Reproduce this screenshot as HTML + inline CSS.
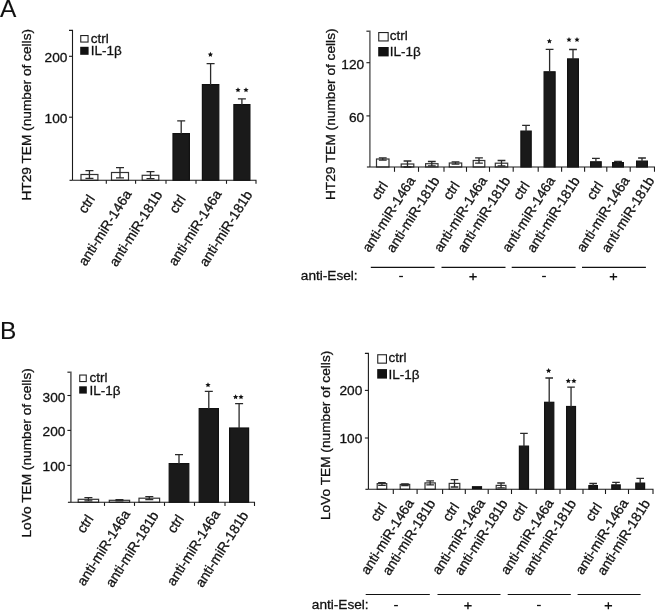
<!DOCTYPE html>
<html><head><meta charset="utf-8"><style>
html,body{margin:0;padding:0;background:#fff;width:655px;height:610px;overflow:hidden}
svg{display:block}
text{font-family:"Liberation Sans", sans-serif;fill:#111;stroke:#111;stroke-width:0.3px}
svg{will-change:transform}
</style></head><body>
<svg width="655" height="610" viewBox="0 0 655 610">
<text x="0" y="17.2" font-size="24.5" style="stroke-width:0.1px">A</text>
<text x="0.1" y="339.4" font-size="24.5" style="stroke-width:0.1px">B</text>
<rect x="81.00" y="174.50" width="16.90" height="5.80" fill="#fff" stroke="#333" stroke-width="1.20"/>
<path d="M89.45 170.30V178.70M85.45 170.60H93.45M85.45 178.40H93.45" stroke="#2a2a2a" stroke-width="1.3" fill="none"/>
<rect x="111.50" y="172.50" width="17.00" height="7.80" fill="#fff" stroke="#333" stroke-width="1.20"/>
<path d="M120.00 167.40V178.20M116.00 167.70H124.00M116.00 177.90H124.00" stroke="#2a2a2a" stroke-width="1.3" fill="none"/>
<rect x="142.20" y="175.30" width="16.60" height="5.00" fill="#fff" stroke="#333" stroke-width="1.20"/>
<path d="M150.50 171.40V179.00M146.50 171.70H154.50M146.50 178.70H154.50" stroke="#2a2a2a" stroke-width="1.3" fill="none"/>
<rect x="173.00" y="133.60" width="16.40" height="46.70" fill="#1a1a1a" stroke="#111" stroke-width="1.20"/>
<path d="M181.20 120.60V134.00M177.20 120.90H185.20" stroke="#2a2a2a" stroke-width="1.3" fill="none"/>
<rect x="202.40" y="84.60" width="16.40" height="95.70" fill="#1a1a1a" stroke="#111" stroke-width="1.20"/>
<path d="M210.60 63.40V85.00M206.60 63.70H214.60" stroke="#2a2a2a" stroke-width="1.3" fill="none"/>
<rect x="233.90" y="104.60" width="16.00" height="75.70" fill="#1a1a1a" stroke="#111" stroke-width="1.20"/>
<path d="M241.90 98.60V105.00M237.90 98.90H245.90" stroke="#2a2a2a" stroke-width="1.3" fill="none"/>
<path d="M69.00 30.40H72.50V180.30" stroke="#1a1a1a" stroke-width="1.10" fill="none"/>
<path d="M69.50 180.30H72.50" stroke="#1a1a1a" stroke-width="1.1" fill="none"/>
<path d="M69.00 56.30H72.50" stroke="#1a1a1a" stroke-width="1.1"/>
<text x="67.40" y="61.60" text-anchor="end" font-size="13.70">200</text>
<path d="M69.00 117.20H72.50" stroke="#1a1a1a" stroke-width="1.1"/>
<text x="67.40" y="122.50" text-anchor="end" font-size="13.70">100</text>
<path d="M72.50 180.30H256.00V183.80" stroke="#1a1a1a" stroke-width="1.1" fill="none"/>
<path d="M106.30 180.30V183.80" stroke="#1a1a1a" stroke-width="1.1"/>
<path d="M135.60 180.30V183.80" stroke="#1a1a1a" stroke-width="1.1"/>
<path d="M166.00 180.30V183.80" stroke="#1a1a1a" stroke-width="1.1"/>
<path d="M196.00 180.30V183.80" stroke="#1a1a1a" stroke-width="1.1"/>
<path d="M226.50 180.30V183.80" stroke="#1a1a1a" stroke-width="1.1"/>
<polygon points="210.40,51.85 211.18,53.53 213.02,53.75 211.66,55.01 212.02,56.82 210.40,55.92 208.78,56.82 209.14,55.01 207.78,53.75 209.62,53.53" fill="#111"/>
<polygon points="238.00,87.25 238.78,88.93 240.62,89.15 239.26,90.41 239.62,92.22 238.00,91.32 236.38,92.22 236.74,90.41 235.38,89.15 237.22,88.93" fill="#111"/>
<polygon points="246.00,87.25 246.78,88.93 248.62,89.15 247.26,90.41 247.62,92.22 246.00,91.32 244.38,92.22 244.74,90.41 243.38,89.15 245.22,88.93" fill="#111"/>
<text transform="translate(95.35 198.70) rotate(-57.5)" text-anchor="end" font-size="13.75">ctrl</text>
<text transform="translate(186.25 198.70) rotate(-57.5)" text-anchor="end" font-size="13.75">ctrl</text>
<text transform="translate(132.10 193.85) rotate(-57.5)" text-anchor="end" font-size="13.75">anti-miR-146a</text>
<text transform="translate(222.10 193.85) rotate(-57.5)" text-anchor="end" font-size="13.75">anti-miR-146a</text>
<text transform="translate(162.80 194.65) rotate(-57.5)" text-anchor="end" font-size="13.75">anti-miR-181b</text>
<text transform="translate(252.80 194.65) rotate(-57.5)" text-anchor="end" font-size="13.75">anti-miR-181b</text>
<rect x="80.75" y="35.55" width="7.30" height="6.50" fill="#fff" stroke="#222" stroke-width="1.1"/>
<rect x="80.20" y="46.80" width="8.40" height="8.00" fill="#111"/>
<text x="90.80" y="42.60" font-size="13.50">ctrl</text>
<text x="90.80" y="55.20" font-size="13.50">IL-1&#946;</text>
<text transform="translate(30.50 200.60) rotate(-90)" font-size="13.70">HT29 TEM (number of cells)</text>
<rect x="376.50" y="159.00" width="12.50" height="8.00" fill="#fff" stroke="#333" stroke-width="1.20"/>
<path d="M382.75 157.50V160.50M378.85 157.80H386.65M378.85 160.20H386.65" stroke="#2a2a2a" stroke-width="1.3" fill="none"/>
<rect x="401.20" y="164.00" width="12.60" height="3.00" fill="#fff" stroke="#333" stroke-width="1.20"/>
<path d="M407.50 160.70V167.30M403.60 161.00H411.40M403.60 167.00H411.40" stroke="#2a2a2a" stroke-width="1.3" fill="none"/>
<rect x="425.60" y="163.70" width="12.40" height="3.30" fill="#fff" stroke="#333" stroke-width="1.20"/>
<path d="M431.80 161.20V166.20M427.90 161.50H435.70M427.90 165.90H435.70" stroke="#2a2a2a" stroke-width="1.3" fill="none"/>
<rect x="449.30" y="163.00" width="12.40" height="4.00" fill="#fff" stroke="#333" stroke-width="1.20"/>
<path d="M455.50 161.50V164.50M451.60 161.80H459.40M451.60 164.20H459.40" stroke="#2a2a2a" stroke-width="1.3" fill="none"/>
<rect x="473.20" y="160.50" width="11.60" height="6.50" fill="#fff" stroke="#333" stroke-width="1.20"/>
<path d="M479.00 157.50V163.50M475.10 157.80H482.90M475.10 163.20H482.90" stroke="#2a2a2a" stroke-width="1.3" fill="none"/>
<rect x="495.30" y="163.20" width="12.40" height="3.80" fill="#fff" stroke="#333" stroke-width="1.20"/>
<path d="M501.50 160.20V166.20M497.60 160.50H505.40M497.60 165.90H505.40" stroke="#2a2a2a" stroke-width="1.3" fill="none"/>
<rect x="520.90" y="131.10" width="10.30" height="35.90" fill="#1a1a1a" stroke="#111" stroke-width="1.20"/>
<path d="M526.05 125.00V131.50M522.15 125.30H529.95" stroke="#2a2a2a" stroke-width="1.3" fill="none"/>
<rect x="544.10" y="71.80" width="11.00" height="95.20" fill="#1a1a1a" stroke="#111" stroke-width="1.20"/>
<path d="M549.60 49.00V72.20M545.70 49.30H553.50" stroke="#2a2a2a" stroke-width="1.3" fill="none"/>
<rect x="567.60" y="58.90" width="10.80" height="108.10" fill="#1a1a1a" stroke="#111" stroke-width="1.20"/>
<path d="M573.00 49.20V59.30M569.10 49.50H576.90" stroke="#2a2a2a" stroke-width="1.3" fill="none"/>
<rect x="590.60" y="161.80" width="10.60" height="5.20" fill="#1a1a1a" stroke="#111" stroke-width="1.20"/>
<path d="M595.90 158.00V162.20M592.00 158.30H599.80" stroke="#2a2a2a" stroke-width="1.3" fill="none"/>
<rect x="612.60" y="162.60" width="10.80" height="4.40" fill="#1a1a1a" stroke="#111" stroke-width="1.20"/>
<path d="M618.00 161.00V163.00M614.10 161.30H621.90" stroke="#2a2a2a" stroke-width="1.3" fill="none"/>
<rect x="636.60" y="161.10" width="10.80" height="5.90" fill="#1a1a1a" stroke="#111" stroke-width="1.20"/>
<path d="M642.00 157.70V161.50M638.10 158.00H645.90" stroke="#2a2a2a" stroke-width="1.3" fill="none"/>
<path d="M366.40 31.30H369.90V167.00" stroke="#555" stroke-width="1.40" fill="none"/>
<path d="M366.90 167.00H369.90" stroke="#1a1a1a" stroke-width="1.1" fill="none"/>
<path d="M366.40 62.70H369.90" stroke="#1a1a1a" stroke-width="1.1"/>
<text x="364.20" y="68.60" text-anchor="end" font-size="13.70">120</text>
<path d="M366.40 115.90H369.90" stroke="#1a1a1a" stroke-width="1.1"/>
<text x="364.20" y="121.80" text-anchor="end" font-size="13.70">60</text>
<path d="M369.90 167.00H654.50V171.80" stroke="#1a1a1a" stroke-width="1.1" fill="none"/>
<path d="M394.50 167.00V171.80" stroke="#1a1a1a" stroke-width="1.1"/>
<path d="M418.50 167.00V171.80" stroke="#1a1a1a" stroke-width="1.1"/>
<path d="M444.00 167.00V171.80" stroke="#1a1a1a" stroke-width="1.1"/>
<path d="M466.50 167.00V171.80" stroke="#1a1a1a" stroke-width="1.1"/>
<path d="M489.50 167.00V171.80" stroke="#1a1a1a" stroke-width="1.1"/>
<path d="M513.20 167.00V171.80" stroke="#1a1a1a" stroke-width="1.1"/>
<path d="M538.20 167.00V171.80" stroke="#1a1a1a" stroke-width="1.1"/>
<path d="M561.60 167.00V171.80" stroke="#1a1a1a" stroke-width="1.1"/>
<path d="M584.60 167.00V171.80" stroke="#1a1a1a" stroke-width="1.1"/>
<path d="M606.80 167.00V171.80" stroke="#1a1a1a" stroke-width="1.1"/>
<path d="M630.20 167.00V171.80" stroke="#1a1a1a" stroke-width="1.1"/>
<polygon points="549.40,38.45 550.18,40.13 552.02,40.35 550.66,41.61 551.02,43.42 549.40,42.52 547.78,43.42 548.14,41.61 546.78,40.35 548.62,40.13" fill="#111"/>
<polygon points="569.00,36.95 569.78,38.63 571.62,38.85 570.26,40.11 570.62,41.92 569.00,41.02 567.38,41.92 567.74,40.11 566.38,38.85 568.22,38.63" fill="#111"/>
<polygon points="577.00,36.95 577.78,38.63 579.62,38.85 578.26,40.11 578.62,41.92 577.00,41.02 575.38,41.92 575.74,40.11 574.38,38.85 576.22,38.63" fill="#111"/>
<text transform="translate(388.35 185.30) rotate(-57.5)" text-anchor="end" font-size="13.75">ctrl</text>
<text transform="translate(460.05 185.30) rotate(-57.5)" text-anchor="end" font-size="13.75">ctrl</text>
<text transform="translate(530.15 185.30) rotate(-57.5)" text-anchor="end" font-size="13.75">ctrl</text>
<text transform="translate(603.65 185.30) rotate(-57.5)" text-anchor="end" font-size="13.75">ctrl</text>
<text transform="translate(415.80 180.25) rotate(-57.5)" text-anchor="end" font-size="13.75">anti-miR-146a</text>
<text transform="translate(487.50 180.25) rotate(-57.5)" text-anchor="end" font-size="13.75">anti-miR-146a</text>
<text transform="translate(555.70 180.25) rotate(-57.5)" text-anchor="end" font-size="13.75">anti-miR-146a</text>
<text transform="translate(630.10 180.25) rotate(-57.5)" text-anchor="end" font-size="13.75">anti-miR-146a</text>
<text transform="translate(440.00 180.55) rotate(-57.5)" text-anchor="end" font-size="13.75">anti-miR-181b</text>
<text transform="translate(510.80 180.55) rotate(-57.5)" text-anchor="end" font-size="13.75">anti-miR-181b</text>
<text transform="translate(580.30 180.55) rotate(-57.5)" text-anchor="end" font-size="13.75">anti-miR-181b</text>
<text transform="translate(654.90 180.55) rotate(-57.5)" text-anchor="end" font-size="13.75">anti-miR-181b</text>
<rect x="378.75" y="32.55" width="9.40" height="8.40" fill="#fff" stroke="#222" stroke-width="1.1"/>
<rect x="378.20" y="47.00" width="10.50" height="9.40" fill="#111"/>
<text x="389.80" y="39.60" font-size="13.50">ctrl</text>
<text x="389.80" y="56.40" font-size="13.50">IL-1&#946;</text>
<text transform="translate(335.00 200.10) rotate(-90)" font-size="13.70">HT29 TEM (number of cells)</text>
<path d="M370.80 267.40H434.60" stroke="#111" stroke-width="1.2"/>
<path d="M441.50 267.40H505.50" stroke="#111" stroke-width="1.2"/>
<path d="M511.70 267.40H575.60" stroke="#111" stroke-width="1.2"/>
<path d="M582.00 267.40H645.90" stroke="#111" stroke-width="1.2"/>
<path d="M399.15 276.50H402.95" stroke="#111" stroke-width="1.3"/>
<path d="M469.35 276.80H476.75M473.05 273.30V280.30" stroke="#111" stroke-width="1.4"/>
<path d="M542.10 276.50H545.90" stroke="#111" stroke-width="1.3"/>
<path d="M609.75 276.80H617.15M613.45 273.30V280.30" stroke="#111" stroke-width="1.4"/>
<text x="300.80" y="280.30" font-size="13.65">anti-Esel:</text>
<rect x="78.20" y="499.30" width="20.40" height="3.00" fill="#fff" stroke="#333" stroke-width="1.20"/>
<path d="M88.40 497.40V501.20M84.40 497.70H92.40M84.40 500.90H92.40" stroke="#2a2a2a" stroke-width="1.3" fill="none"/>
<rect x="109.30" y="500.30" width="20.30" height="2.00" fill="#fff" stroke="#333" stroke-width="1.20"/>
<path d="M119.45 499.40V501.20M115.45 499.70H123.45M115.45 500.90H123.45" stroke="#2a2a2a" stroke-width="1.3" fill="none"/>
<rect x="139.00" y="498.20" width="20.60" height="4.10" fill="#fff" stroke="#333" stroke-width="1.20"/>
<path d="M149.30 496.40V500.00M145.30 496.70H153.30M145.30 499.70H153.30" stroke="#2a2a2a" stroke-width="1.3" fill="none"/>
<rect x="169.20" y="463.60" width="19.60" height="38.70" fill="#1a1a1a" stroke="#111" stroke-width="1.20"/>
<path d="M179.00 454.40V464.00M175.00 454.70H183.00" stroke="#2a2a2a" stroke-width="1.3" fill="none"/>
<rect x="199.20" y="408.60" width="19.20" height="93.70" fill="#1a1a1a" stroke="#111" stroke-width="1.20"/>
<path d="M208.80 391.00V409.00M204.80 391.30H212.80" stroke="#2a2a2a" stroke-width="1.3" fill="none"/>
<rect x="229.60" y="428.00" width="19.00" height="74.30" fill="#1a1a1a" stroke="#111" stroke-width="1.20"/>
<path d="M239.10 403.40V428.40M235.10 403.70H243.10" stroke="#2a2a2a" stroke-width="1.3" fill="none"/>
<path d="M67.40 372.30H70.90V502.30" stroke="#555" stroke-width="1.50" fill="none"/>
<path d="M67.90 502.30H70.90" stroke="#1a1a1a" stroke-width="1.1" fill="none"/>
<path d="M67.40 395.50H70.90" stroke="#1a1a1a" stroke-width="1.1"/>
<text x="65.40" y="401.50" text-anchor="end" font-size="13.70">300</text>
<path d="M67.40 430.40H70.90" stroke="#1a1a1a" stroke-width="1.1"/>
<text x="65.40" y="436.40" text-anchor="end" font-size="13.70">200</text>
<path d="M67.40 465.40H70.90" stroke="#1a1a1a" stroke-width="1.1"/>
<text x="65.40" y="471.40" text-anchor="end" font-size="13.70">100</text>
<path d="M70.90 502.30H254.50V505.90" stroke="#1a1a1a" stroke-width="1.1" fill="none"/>
<path d="M104.50 502.30V505.90" stroke="#1a1a1a" stroke-width="1.1"/>
<path d="M134.50 502.30V505.90" stroke="#1a1a1a" stroke-width="1.1"/>
<path d="M164.50 502.30V505.90" stroke="#1a1a1a" stroke-width="1.1"/>
<path d="M194.50 502.30V505.90" stroke="#1a1a1a" stroke-width="1.1"/>
<path d="M225.00 502.30V505.90" stroke="#1a1a1a" stroke-width="1.1"/>
<polygon points="208.00,382.25 208.78,383.93 210.62,384.15 209.26,385.41 209.62,387.22 208.00,386.32 206.38,387.22 206.74,385.41 205.38,384.15 207.22,383.93" fill="#111"/>
<polygon points="235.60,394.25 236.38,395.93 238.22,396.15 236.86,397.41 237.22,399.22 235.60,398.32 233.98,399.22 234.34,397.41 232.98,396.15 234.82,395.93" fill="#111"/>
<polygon points="241.00,394.25 241.78,395.93 243.62,396.15 242.26,397.41 242.62,399.22 241.00,398.32 239.38,399.22 239.74,397.41 238.38,396.15 240.22,395.93" fill="#111"/>
<text transform="translate(93.85 518.60) rotate(-57.5)" text-anchor="end" font-size="13.75">ctrl</text>
<text transform="translate(184.35 518.60) rotate(-57.5)" text-anchor="end" font-size="13.75">ctrl</text>
<text transform="translate(130.60 513.85) rotate(-57.5)" text-anchor="end" font-size="13.75">anti-miR-146a</text>
<text transform="translate(220.50 513.85) rotate(-57.5)" text-anchor="end" font-size="13.75">anti-miR-146a</text>
<text transform="translate(159.10 515.35) rotate(-57.5)" text-anchor="end" font-size="13.75">anti-miR-181b</text>
<text transform="translate(248.80 515.35) rotate(-57.5)" text-anchor="end" font-size="13.75">anti-miR-181b</text>
<rect x="79.75" y="375.05" width="6.50" height="6.50" fill="#fff" stroke="#222" stroke-width="1.1"/>
<rect x="79.20" y="386.30" width="7.60" height="7.30" fill="#111"/>
<text x="89.40" y="381.70" font-size="13.50">ctrl</text>
<text x="89.40" y="395.10" font-size="13.50">IL-1&#946;</text>
<text transform="translate(30.70 537.60) rotate(-90)" font-size="13.70">LoVo TEM (number of cells)</text>
<rect x="377.20" y="483.60" width="9.50" height="5.70" fill="#fff" stroke="#333" stroke-width="1.20"/>
<path d="M381.95 482.40V485.60M378.15 482.70H385.75M378.15 485.30H385.75" stroke="#2a2a2a" stroke-width="1.3" fill="none"/>
<rect x="400.20" y="484.40" width="9.50" height="4.90" fill="#fff" stroke="#333" stroke-width="1.20"/>
<path d="M404.95 483.50V485.80M401.15 483.80H408.75M401.15 485.50H408.75" stroke="#2a2a2a" stroke-width="1.3" fill="none"/>
<rect x="425.00" y="482.90" width="10.30" height="6.40" fill="#fff" stroke="#333" stroke-width="1.20"/>
<path d="M430.15 480.60V485.10M426.35 480.90H433.95M426.35 484.80H433.95" stroke="#2a2a2a" stroke-width="1.3" fill="none"/>
<rect x="449.20" y="483.40" width="10.60" height="5.90" fill="#fff" stroke="#333" stroke-width="1.20"/>
<path d="M454.50 479.40V487.30M450.70 479.70H458.30M450.70 487.00H458.30" stroke="#2a2a2a" stroke-width="1.3" fill="none"/>
<rect x="471.90" y="486.10" width="10.20" height="3.20" fill="#111"/>
<rect x="496.20" y="485.40" width="9.70" height="3.90" fill="#fff" stroke="#333" stroke-width="1.20"/>
<path d="M501.05 482.70V488.10M497.25 483.00H504.85M497.25 487.80H504.85" stroke="#2a2a2a" stroke-width="1.3" fill="none"/>
<rect x="519.40" y="446.10" width="9.10" height="43.20" fill="#1a1a1a" stroke="#111" stroke-width="1.20"/>
<path d="M523.95 433.00V446.50M520.15 433.30H527.75" stroke="#2a2a2a" stroke-width="1.3" fill="none"/>
<rect x="544.60" y="402.30" width="9.20" height="87.00" fill="#1a1a1a" stroke="#111" stroke-width="1.20"/>
<path d="M549.20 377.70V402.70M545.40 378.00H553.00" stroke="#2a2a2a" stroke-width="1.3" fill="none"/>
<rect x="566.60" y="406.50" width="8.90" height="82.80" fill="#1a1a1a" stroke="#111" stroke-width="1.20"/>
<path d="M571.05 386.80V406.90M567.25 387.10H574.85" stroke="#2a2a2a" stroke-width="1.3" fill="none"/>
<rect x="588.90" y="485.60" width="8.50" height="3.70" fill="#1a1a1a" stroke="#111" stroke-width="1.20"/>
<path d="M593.15 483.20V486.00M589.35 483.50H596.95" stroke="#2a2a2a" stroke-width="1.3" fill="none"/>
<rect x="611.80" y="484.90" width="8.40" height="4.40" fill="#1a1a1a" stroke="#111" stroke-width="1.20"/>
<path d="M616.00 482.00V485.30M612.20 482.30H619.80" stroke="#2a2a2a" stroke-width="1.3" fill="none"/>
<rect x="635.80" y="483.10" width="8.80" height="6.20" fill="#1a1a1a" stroke="#111" stroke-width="1.20"/>
<path d="M640.20 478.00V483.50M636.40 478.30H644.00" stroke="#2a2a2a" stroke-width="1.3" fill="none"/>
<path d="M364.90 353.40H368.40V489.30" stroke="#1a1a1a" stroke-width="1.10" fill="none"/>
<path d="M365.40 489.30H368.40" stroke="#1a1a1a" stroke-width="1.1" fill="none"/>
<path d="M364.90 390.40H368.40" stroke="#1a1a1a" stroke-width="1.1"/>
<text x="362.30" y="395.30" text-anchor="end" font-size="13.70">200</text>
<path d="M364.90 438.00H368.40" stroke="#1a1a1a" stroke-width="1.1"/>
<text x="362.30" y="442.90" text-anchor="end" font-size="13.70">100</text>
<path d="M368.40 489.30H653.00V494.00" stroke="#1a1a1a" stroke-width="1.1" fill="none"/>
<path d="M393.30 489.30V494.00" stroke="#1a1a1a" stroke-width="1.1"/>
<path d="M417.10 489.30V494.00" stroke="#1a1a1a" stroke-width="1.1"/>
<path d="M442.60 489.30V494.00" stroke="#1a1a1a" stroke-width="1.1"/>
<path d="M465.30 489.30V494.00" stroke="#1a1a1a" stroke-width="1.1"/>
<path d="M488.20 489.30V494.00" stroke="#1a1a1a" stroke-width="1.1"/>
<path d="M511.50 489.30V494.00" stroke="#1a1a1a" stroke-width="1.1"/>
<path d="M536.20 489.30V494.00" stroke="#1a1a1a" stroke-width="1.1"/>
<path d="M560.00 489.30V494.00" stroke="#1a1a1a" stroke-width="1.1"/>
<path d="M583.00 489.30V494.00" stroke="#1a1a1a" stroke-width="1.1"/>
<path d="M605.50 489.30V494.00" stroke="#1a1a1a" stroke-width="1.1"/>
<path d="M628.50 489.30V494.00" stroke="#1a1a1a" stroke-width="1.1"/>
<polygon points="548.60,368.05 549.38,369.73 551.22,369.95 549.86,371.21 550.22,373.02 548.60,372.12 546.98,373.02 547.34,371.21 545.98,369.95 547.82,369.73" fill="#111"/>
<polygon points="568.30,378.25 569.08,379.93 570.92,380.15 569.56,381.41 569.92,383.22 568.30,382.32 566.68,383.22 567.04,381.41 565.68,380.15 567.52,379.93" fill="#111"/>
<polygon points="573.90,378.25 574.68,379.93 576.52,380.15 575.16,381.41 575.52,383.22 573.90,382.32 572.28,383.22 572.64,381.41 571.28,380.15 573.12,379.93" fill="#111"/>
<text transform="translate(387.45 506.70) rotate(-57.5)" text-anchor="end" font-size="13.75">ctrl</text>
<text transform="translate(459.55 506.70) rotate(-57.5)" text-anchor="end" font-size="13.75">ctrl</text>
<text transform="translate(527.95 506.70) rotate(-57.5)" text-anchor="end" font-size="13.75">ctrl</text>
<text transform="translate(602.35 506.70) rotate(-57.5)" text-anchor="end" font-size="13.75">ctrl</text>
<text transform="translate(414.30 502.75) rotate(-57.5)" text-anchor="end" font-size="13.75">anti-miR-146a</text>
<text transform="translate(485.70 502.75) rotate(-57.5)" text-anchor="end" font-size="13.75">anti-miR-146a</text>
<text transform="translate(554.20 502.75) rotate(-57.5)" text-anchor="end" font-size="13.75">anti-miR-146a</text>
<text transform="translate(628.80 502.75) rotate(-57.5)" text-anchor="end" font-size="13.75">anti-miR-146a</text>
<text transform="translate(435.90 503.35) rotate(-57.5)" text-anchor="end" font-size="13.75">anti-miR-181b</text>
<text transform="translate(508.00 503.35) rotate(-57.5)" text-anchor="end" font-size="13.75">anti-miR-181b</text>
<text transform="translate(576.60 503.35) rotate(-57.5)" text-anchor="end" font-size="13.75">anti-miR-181b</text>
<text transform="translate(650.60 503.35) rotate(-57.5)" text-anchor="end" font-size="13.75">anti-miR-181b</text>
<rect x="377.75" y="354.75" width="8.70" height="8.40" fill="#fff" stroke="#222" stroke-width="1.1"/>
<rect x="377.20" y="369.10" width="9.80" height="9.50" fill="#111"/>
<text x="388.50" y="362.20" font-size="13.50">ctrl</text>
<text x="388.50" y="378.90" font-size="13.50">IL-1&#946;</text>
<text transform="translate(329.80 520.10) rotate(-90)" font-size="13.70">LoVo TEM (number of cells)</text>
<path d="M365.70 594.50H429.80" stroke="#111" stroke-width="1.2"/>
<path d="M437.50 594.50H500.50" stroke="#111" stroke-width="1.2"/>
<path d="M507.70 594.50H570.80" stroke="#111" stroke-width="1.2"/>
<path d="M577.60 594.50H640.60" stroke="#111" stroke-width="1.2"/>
<path d="M394.10 605.60H397.90" stroke="#111" stroke-width="1.3"/>
<path d="M464.25 605.80H471.65M467.95 602.30V609.30" stroke="#111" stroke-width="1.4"/>
<path d="M537.00 605.50H540.80" stroke="#111" stroke-width="1.3"/>
<path d="M604.65 605.80H612.05M608.35 602.30V609.30" stroke="#111" stroke-width="1.4"/>
<text x="311.80" y="608.90" font-size="13.65">anti-Esel:</text>
</svg>
</body></html>
